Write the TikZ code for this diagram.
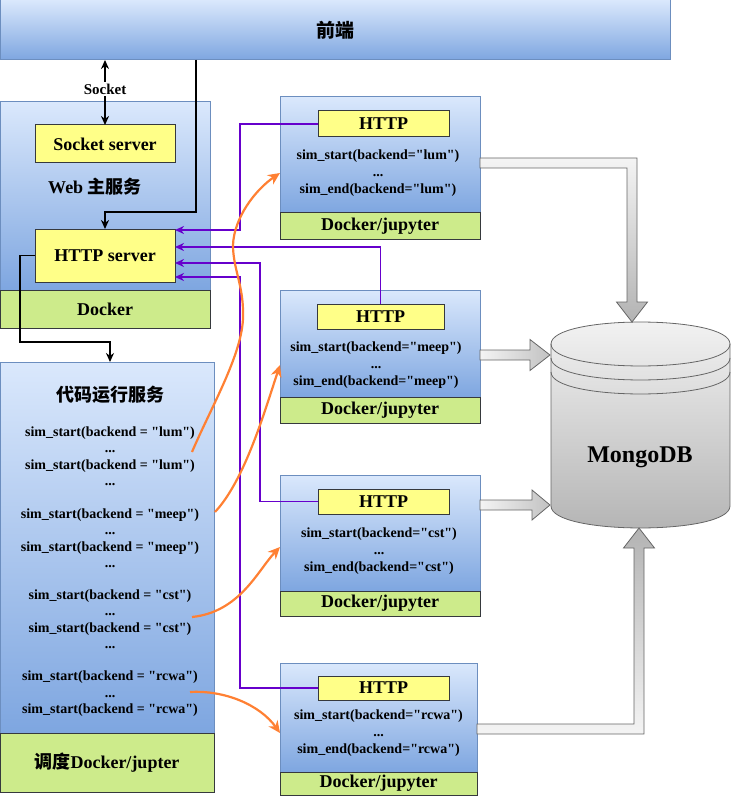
\documentclass[tikz,border=0pt]{standalone}
\usepackage{fontspec}
\setmainfont{Liberation Serif}
\newfontfamily\plainserif{Liberation Serif}
\newfontfamily\cjk{Noto Sans CJK SC}
\usetikzlibrary{arrows.meta, positioning}

\definecolor{bluetop}{HTML}{DAE8FC}
\definecolor{bluebot}{HTML}{7EA6E0}
\definecolor{blueline}{HTML}{6C8EBF}
\definecolor{yellowfill}{HTML}{FFFF88}
\definecolor{greenfill}{HTML}{CDEB8B}
\definecolor{darkline}{HTML}{36393D}
\definecolor{purplec}{HTML}{6600CC}
\definecolor{orangec}{HTML}{FF8033}
\definecolor{graytop}{HTML}{F4F4F4}
\definecolor{graybot}{HTML}{B3B3B3}
\definecolor{grayline}{HTML}{666666}

\begin{document}
\begin{tikzpicture}[x=1pt, y=-1pt,
    plainbox/.style={anchor=north west, inner sep=0pt, outer sep=0pt},
    bluebox/.style={plainbox, draw=blueline, line width=1pt, top color=bluetop, bottom color=bluebot},
    greenbar/.style={plainbox, draw=darkline, line width=1pt, fill=greenfill, font=\bfseries\fontsize{18}{20}\selectfont},
    yellowbox/.style={plainbox, draw=darkline, line width=1pt, fill=yellowfill, font=\bfseries\fontsize{18}{20}\selectfont},
    titletext/.style={inner sep=0pt, font=\bfseries\fontsize{18}{20}\selectfont},
    codetext/.style={align=center, inner sep=0pt, font=\plainserif\bfseries\fontsize{14}{16.5}\selectfont},
    boxtext/.style={align=center, inner sep=0pt, font=\plainserif\bfseries\fontsize{14}{17}\selectfont},
    blackarrow/.style={line width=1.5pt, black, -{Stealth[length=9pt,width=8pt]}},
    purplearrow/.style={line width=1.5pt, purplec, -{Stealth[length=9pt,width=8pt]}},
    orangearrow/.style={line width=2.2pt, orangec, -{Stealth[length=12pt,width=11pt]}},
    blockarrow/.style={draw=grayline, line width=0.8pt}
]
    \useasboundingbox (0,0) rectangle (731,810);

    % Front end bar
    \node[bluebox, minimum width=670pt, minimum height=60pt, font=\cjk\bfseries\fontsize{19}{21}\selectfont] (front) at (0,0) {前端};

    % Web main service
    \node[bluebox, minimum width=210pt, minimum height=188pt] (web) at (0,102) {};
    \node[greenbar, minimum width=210pt, minimum height=38pt] (webdock) at (0,290) {Docker};
    \node[yellowbox, minimum width=140pt, minimum height=38pt] (sockserver) at (35,125) {Socket server};
    \node[titletext] (webtitle) at (95,187) {Web {\cjk 主服务}};
    \node[yellowbox, minimum width=140pt, minimum height=53pt] (httpserver) at (35,229) {HTTP server};

    % Code runner service
    \node[bluebox, minimum width=214pt, minimum height=371pt] (runner) at (0,362) {};
    \node[greenbar, minimum width=214pt, minimum height=59pt] (runnerdock) at (0,733) {{\cjk 调度}Docker/jupter};
    \node[titletext] (runnertitle) at (110,395) {\cjk 代码运行服务};
    \node[codetext] (lumcalls) at (110,456) {sim\_start(backend = "lum")\\...\\sim\_start(backend = "lum")\\...};
    \node[codetext] (meepcalls) at (110,538) {sim\_start(backend = "meep")\\...\\sim\_start(backend = "meep")\\...};
    \node[codetext] (cstcalls) at (110,619) {sim\_start(backend = "cst")\\...\\sim\_start(backend = "cst")\\...};
    \node[codetext] (rcwacalls) at (110,694) {sim\_start(backend = "rcwa")\\...\\sim\_start(backend = "rcwa")};

    % Backend containers
    \node[bluebox, minimum width=200pt, minimum height=116pt] (lum) at (280,97) {};
    \node[greenbar, minimum width=200pt, minimum height=26pt] (lumdock) at (280,213) {Docker/jupyter};
    \node[yellowbox, minimum width=131pt, minimum height=26pt] (lumhttp) at (318,111) {HTTP};
    \node[boxtext] (lumtext) at (378,173) {sim\_start(backend="lum")\\...\\sim\_end(backend="lum")};

    \node[bluebox, minimum width=200pt, minimum height=107pt] (meep) at (280,290) {};
    \node[greenbar, minimum width=200pt, minimum height=26pt] (meepdock) at (280,397) {Docker/jupyter};
    \node[yellowbox, minimum width=127pt, minimum height=25pt] (meephttp) at (317,304) {HTTP};
    \node[boxtext] (meeptext) at (376,365.5) {sim\_start(backend="meep")\\...\\sim\_end(backend="meep")};

    \node[bluebox, minimum width=200pt, minimum height=116pt] (cst) at (280,475) {};
    \node[greenbar, minimum width=200pt, minimum height=25pt] (cstdock) at (280,591) {Docker/jupyter};
    \node[yellowbox, minimum width=131pt, minimum height=25pt] (csthttp) at (318,489) {HTTP};
    \node[boxtext] (csttext) at (379,551) {sim\_start(backend="cst")\\...\\sim\_end(backend="cst")};

    \node[bluebox, minimum width=197pt, minimum height=109pt] (rcwa) at (280,663) {};
    \node[greenbar, minimum width=197pt, minimum height=23pt] (rcwadock) at (280,772) {Docker/jupyter};
    \node[yellowbox, minimum width=131pt, minimum height=24pt] (rcwahttp) at (318,676) {HTTP};
    \node[boxtext] (rcwatext) at (378.5,733.5) {sim\_start(backend="rcwa")\\...\\sim\_end(backend="rcwa")};

    % MongoDB cylinder
    \path[blockarrow, top color=graytop, bottom color=graybot] (551,344) -- (551,506) .. controls (551,535.3) and (730,535.3) .. (730,506) -- (730,344) .. controls (730,314.7) and (551,314.7) .. (551,344) -- cycle;
    \draw[blockarrow] (551,344) .. controls (551,373.3) and (730,373.3) .. (730,344);
    \draw[blockarrow] (551,358) .. controls (551,387.3) and (730,387.3) .. (730,358);
    \draw[blockarrow] (551,372) .. controls (551,401.3) and (730,401.3) .. (730,372);
    \node[inner sep=0pt, font=\bfseries\fontsize{24}{26}\selectfont] (mongo) at (640,457) {MongoDB};

    % Block arrows into MongoDB
    \path[blockarrow, top color=graytop, bottom color=graybot] (480,158) -- (637,158) -- (637,302) -- (647.5,302) -- (632,322) -- (616.5,302) -- (627,302) -- (627,168) -- (480,168) -- cycle;
    \path[blockarrow, left color=graytop, right color=graybot!80] (480,350) -- (530,350) -- (530,339.5) -- (550,355) -- (530,370.5) -- (530,360) -- (480,360) -- cycle;
    \path[blockarrow, left color=graytop, right color=graybot!80] (480,500) -- (532,500) -- (532,490) -- (550,505) -- (532,520) -- (532,510) -- (480,510) -- cycle;
    \path[blockarrow, top color=graybot, bottom color=graytop] (477,734) -- (644,734) -- (644,548) -- (654.5,548) -- (639,528) -- (623.5,548) -- (634,548) -- (634,724) -- (477,724) -- cycle;

    % Black connectors
    \draw[blackarrow, {Stealth[length=9pt,width=8pt]}-{Stealth[length=9pt,width=8pt]}] (sockserver.north |- front.south) -- (sockserver.north)
        node[pos=0.45, fill=white, inner sep=1.5pt, font=\bfseries\fontsize{15}{17}\selectfont] {Socket};
    \draw[blackarrow] ([xshift=196pt]front.south west) |- ([yshift=17pt]httpserver.north) -- (httpserver.north);
    \draw[blackarrow] (httpserver.west) -- ++(-15,0) |- ([xshift=3pt, yshift=20pt]runner.north) -- ([xshift=3pt]runner.north);

    % Purple connectors back to the HTTP server
    \draw[purplearrow] (lumhttp.west) -- ++(-78,0) |- ([yshift=25.5pt]httpserver.east);
    \draw[purplearrow] (meephttp.north) |- ([yshift=8.5pt]httpserver.east);
    \draw[purplearrow] (csthttp.west) -- ++(-58,0) |- ([yshift=-7.5pt]httpserver.east);
    \draw[purplearrow] (rcwahttp.west) -- ++(-78,0) |- ([yshift=-21.5pt]httpserver.east);

    % Orange calls from the runner
    \coordinate (lumsrc) at (192,452);
    \coordinate (meepsrc) at (215,512);
    \coordinate (cstsrc) at (192,617);
    \coordinate (rcwasrc) at (190,692);
    \draw[orangearrow] (lumsrc) .. controls (212,405) and (245,350) .. (243,312) .. controls (243,285) and (233,268) .. (233,245) .. controls (234,218) and (255,190) .. ([yshift=-18pt]lum.west);
    \draw[orangearrow] (meepsrc) .. controls (245,480) and (265,410) .. ([yshift=-21.5pt]meep.west);
    \draw[orangearrow] (cstsrc) .. controls (240,612) and (258,570) .. ([yshift=-14pt]cst.west);
    \draw[orangearrow] (rcwasrc) .. controls (225,690) and (260,705) .. ([yshift=-15.5pt]rcwa.west);
\end{tikzpicture}
\end{document}
